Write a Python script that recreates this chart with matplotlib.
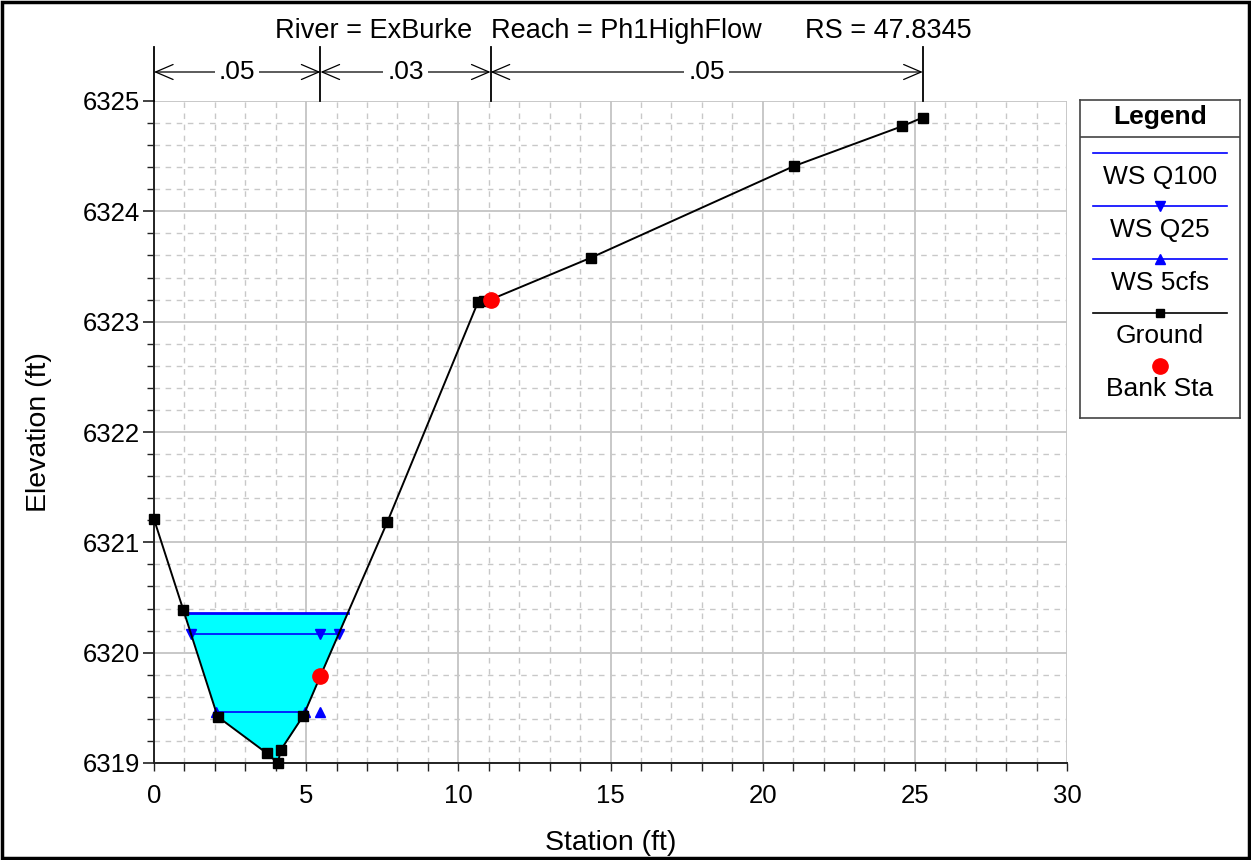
import numpy as np
import matplotlib
matplotlib.use("Agg")
import matplotlib.pyplot as plt
from matplotlib.patches import Rectangle
from matplotlib.ticker import MultipleLocator

plt.rcParams['font.family'] = ['Liberation Sans', 'DejaVu Sans']

# Cross-section ground survey (station ft, elevation ft)
station = [0.0, 0.96, 2.09, 3.70, 4.07, 4.17, 4.91, 5.47, 7.66,
           10.65, 10.85, 11.06, 14.36, 21.03, 24.57, 25.26]
elevation = [6321.21, 6320.39, 6319.42, 6319.09, 6319.00, 6319.12, 6319.43,
             6319.79, 6321.18, 6323.18, 6323.19, 6323.20, 6323.58, 6324.41,
             6324.77, 6324.85]

# Bank stations
bank_sta = [5.47, 11.06]

# Water surface elevations per profile
ws_names = ["WS Q100", "WS Q25", "WS 5cfs"]
ws_elev = [6320.36, 6320.17, 6319.46]

# Manning's n regions
n_values = [".05", ".03", ".05"]
n_breaks = [0.0, 5.47, 11.06, 25.26]

title_parts = ["River = ExBurke", "Reach = Ph1HighFlow", "RS = 47.8345"]

st = np.array(station)
el = np.array(elevation)


def ws_limits(ws):
    """Left/right stations where a water surface meets the ground."""
    i0 = int(np.argmin(el))
    i = i0
    while i > 0 and el[i - 1] < ws:
        i -= 1
    xl = np.interp(ws, [el[i], el[i - 1]], [st[i], st[i - 1]])
    j = i0
    while j < len(el) - 1 and el[j + 1] < ws:
        j += 1
    xr = np.interp(ws, [el[j], el[j + 1]], [st[j], st[j + 1]])
    return xl, xr


W, H = 1251, 860
fig = plt.figure(figsize=(W / 100, H / 100), dpi=100)


def fx(px):
    return px / W


def fy(py):
    return 1 - py / H


ax = fig.add_axes([fx(154), fy(763), fx(1067) - fx(154), fy(101) - fy(763)])
ax.set_xlim(0, 30)
ax.set_ylim(6319, 6325)

ax.xaxis.set_major_locator(MultipleLocator(5))
ax.xaxis.set_minor_locator(MultipleLocator(1))
ax.yaxis.set_major_locator(MultipleLocator(1))
ax.yaxis.set_minor_locator(MultipleLocator(0.2))
ax.grid(which='major', color='#c4c4c4', lw=1.3, ls='-')
ax.grid(which='minor', color='#c8c8c8', lw=1.0, ls=(0, (4, 4)))
ax.set_axisbelow(True)

for s in ['top', 'right']:
    ax.spines[s].set_visible(False)
for s in ['left', 'bottom']:
    ax.spines[s].set_color('#222222')
    ax.spines[s].set_linewidth(1.4)

ax.tick_params(axis='y', which='major', length=8, width=1.2, pad=2,
               labelsize=18.5, color='#222222')
ax.tick_params(axis='y', which='minor', length=5, width=1.0, color='#222222')
ax.tick_params(axis='x', which='both', length=6, width=1.0, pad=9,
               labelsize=18.5, color='#222222')
ax.ticklabel_format(axis='y', useOffset=False)

ax.set_xlabel("Station (ft)", fontsize=20.5, labelpad=16)
ax.set_ylabel("Elevation (ft)", fontsize=20.5, labelpad=22)

# Water fill for the highest profile
ws_top = ws_elev[0]
ax.fill_between(st, el, ws_top, where=el < ws_top, interpolate=True,
                color='#00ffff', lw=0, zorder=2)

# Water surface lines
xl, xr = ws_limits(ws_top)
ax.plot([xl, xr], [ws_top, ws_top], color='#0000ff', lw=2.0, zorder=3)

markers = {"WS Q25": 'v', "WS 5cfs": '^'}
for name, ws in zip(ws_names[1:], ws_elev[1:]):
    xl, xr = ws_limits(ws)
    ax.plot([xl, xr], [ws, ws], color='#0000ff', lw=1.2, zorder=3)
    ax.plot([xl, bank_sta[0], xr], [ws] * 3, ls='none', marker=markers[name],
            color='#0000ff', ms=7.5, zorder=4, clip_on=False)

# Ground
ax.plot(st, el, color='black', lw=1.4, marker='s', ms=7, zorder=5,
        clip_on=False)

# Bank stations
bank_el = np.interp(bank_sta, st, el)
ax.plot(bank_sta, bank_el, ls='none', marker='o', color='#ff0000', ms=11,
        zorder=6, clip_on=False)

# Manning's n bars above the plot
tr = ax.get_xaxis_transform()
y_top = (763 - 47) / (763 - 101)
y_arrow = (763 - 72) / (763 - 101)
for xb in n_breaks:
    ax.plot([xb, xb], [1.0, y_top], transform=tr, color='black', lw=1.3,
            clip_on=False, zorder=6)
for n, a, b in zip(n_values, n_breaks[:-1], n_breaks[1:]):
    ax.annotate("", xy=(b, y_arrow), xytext=(a, y_arrow), xycoords=tr,
                textcoords=tr,
                arrowprops=dict(arrowstyle='<->,head_length=0.7,head_width=0.3',
                                color='black', lw=0.9, shrinkA=0, shrinkB=0,
                                mutation_scale=18),
                annotation_clip=False)
    ax.text((a + b) / 2, y_arrow, n, transform=tr, ha='center', va='center',
            fontsize=19,
            bbox=dict(boxstyle='square,pad=0.15', fc='white', ec='none'),
            zorder=7)

# Title line
for txt, px in zip(title_parts, [275, 491, 805]):
    fig.text(fx(px), fy(31), txt, ha='left', va='center', fontsize=19.5)

# Legend panel
lax = fig.add_axes([fx(1080), fy(418), fx(1240) - fx(1080), fy(100) - fy(418)])
lax.set_xlim(1080, 1240)
lax.set_ylim(418, 100)
lax.set_xticks([])
lax.set_yticks([])
for s in lax.spines.values():
    s.set_color('#444444')
    s.set_linewidth(1.2)
lax.text(1160, 117, "Legend", ha='center', va='center', fontsize=19,
         fontweight='bold')
lax.plot([1080, 1240], [137, 137], color='#444444', lw=1.2)

entries = [
    ("WS Q100", 153, 177, dict(color='#0000ff', lw=1.2, marker=None)),
    ("WS Q25", 206, 230, dict(color='#0000ff', lw=1.2, marker='v', ms=7)),
    ("WS 5cfs", 259, 283, dict(color='#0000ff', lw=1.2, marker='^', ms=7)),
    ("Ground", 313, 336, dict(color='black', lw=1.2, marker='s', ms=6)),
]
for label, ly, ty, style in entries:
    mk = style.pop('marker')
    ms = style.pop('ms', 0)
    lax.plot([1093, 1227], [ly, ly], **style)
    if mk:
        lax.plot([1160], [ly], ls='none', marker=mk, ms=ms,
                 color=style['color'])
    lax.text(1160, ty, label, ha='center', va='center', fontsize=19)
lax.plot([1160], [366], ls='none', marker='o', ms=11, color='#ff0000')
lax.text(1160, 389, "Bank Sta", ha='center', va='center', fontsize=19)

# Outer frame
fig.add_artist(Rectangle((0.0015, 0.002), 0.997, 0.996, transform=fig.transFigure,
                         fill=False, ec='black', lw=2.5))

fig.savefig("out.png", dpi=100, facecolor='white')
